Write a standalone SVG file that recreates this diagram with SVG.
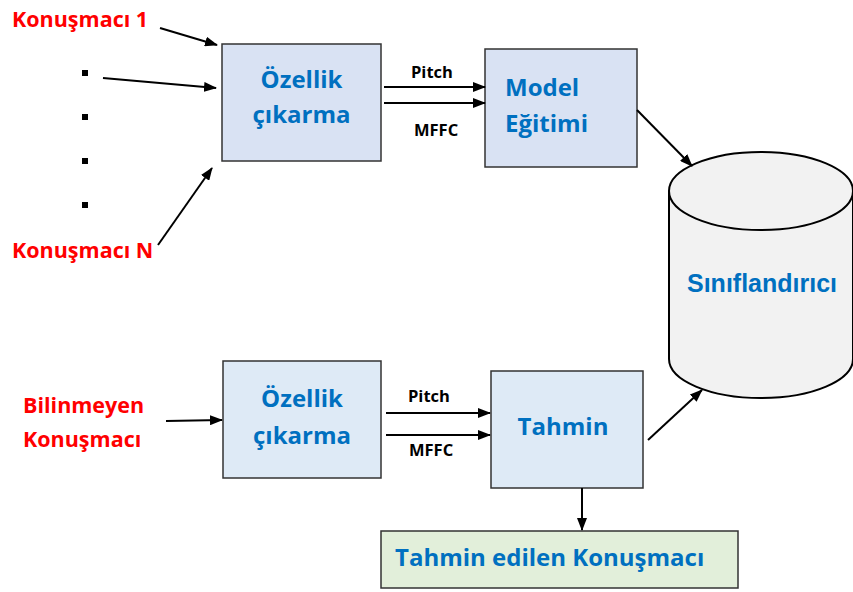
<svg xmlns="http://www.w3.org/2000/svg" width="853" height="592" viewBox="0 0 853 592">
<defs>
<marker id="ah" markerWidth="13" markerHeight="10" refX="12" refY="5" orient="auto" markerUnits="userSpaceOnUse">
<path d="M0,0 L13,5 L0,10 Z" fill="#000"/>
</marker>
<style>
.red{font-family:"Open Sans","Liberation Sans",sans-serif;font-weight:bold;fill:#FF0000;font-size:21.5px}
.blue{font-family:"Open Sans","Liberation Sans",sans-serif;font-weight:bold;fill:#0070C0;font-size:24px}
.arial{font-family:"Liberation Sans",Arial,sans-serif;font-weight:bold;fill:#0070C0;font-size:25px}
.lbl{font-family:"Open Sans","Liberation Sans",sans-serif;font-weight:bold;fill:#000;font-size:16.5px}
.box{stroke:#333;stroke-width:1.5}
.c{fill:none;stroke:#000;stroke-width:2;marker-end:url(#ah)}
</style>
</defs>
<rect width="853" height="592" fill="#fff"/>
<g id="inputs">
<text class="red" x="12" y="27">Konuşmacı 1</text>
<rect x="82" y="70" width="6" height="6" fill="#000"/>
<rect x="82" y="114" width="6" height="6" fill="#000"/>
<rect x="82" y="158" width="6" height="6" fill="#000"/>
<rect x="82" y="202" width="6" height="6" fill="#000"/>
<text class="red" x="12" y="258">Konuşmacı N</text>
</g>
<g id="unknown">
<text class="red" x="23" y="413">Bilinmeyen</text>
<text class="red" x="23" y="447">Konuşmacı</text>
</g>
<g id="ozellik1">
<rect class="box" x="222" y="44" width="159" height="117" fill="#D9E2F3"/>
<text class="blue" x="301.5" y="88" text-anchor="middle">Özellik</text>
<text class="blue" x="301.5" y="123" text-anchor="middle">çıkarma</text>
</g>
<g id="model">
<rect class="box" x="485" y="49" width="152" height="118" fill="#D9E2F3"/>
<text class="blue" x="505" y="96">Model</text>
<text class="blue" x="505" y="132">Eğitimi</text>
</g>
<g id="siniflandirici">
<path d="M669,191 L669,359 A92,39 0 0 0 853,359 L853,191 A92,39 0 0 0 669,191 Z" fill="#F2F2F2" stroke="#000" stroke-width="2"/>
<path d="M669,191 A92,39 0 0 0 853,191" fill="none" stroke="#000" stroke-width="2"/>
<text class="arial" x="762" y="292" text-anchor="middle">Sınıflandırıcı</text>
</g>
<g id="ozellik2">
<rect class="box" x="223" y="361" width="158" height="117" fill="#DEEAF6"/>
<text class="blue" x="302" y="407" text-anchor="middle">Özellik</text>
<text class="blue" x="302" y="444" text-anchor="middle">çıkarma</text>
</g>
<g id="tahmin">
<rect class="box" x="491" y="371" width="152" height="117" fill="#DEEAF6"/>
<text class="blue" x="563" y="435" text-anchor="middle">Tahmin</text>
</g>
<g id="sonuc">
<rect class="box" x="381" y="531" width="357" height="57" fill="#E2EFDA"/>
<text class="blue" x="395" y="566">Tahmin edilen Konuşmacı</text>
</g>
<g id="connectors">
<line class="c" x1="160" y1="28" x2="217" y2="45"/>
<line class="c" x1="103" y1="78" x2="216" y2="88"/>
<line class="c" x1="158" y1="245" x2="212" y2="168"/>
<line class="c" x1="384" y1="87" x2="485" y2="87"/>
<line class="c" x1="384" y1="103" x2="485" y2="103"/>
<text class="lbl" x="411" y="78">Pitch</text>
<text class="lbl" x="414" y="136">MFFC</text>
<line class="c" x1="637" y1="110" x2="692" y2="166"/>
<line class="c" x1="166" y1="421" x2="222" y2="420"/>
<line class="c" x1="386" y1="413" x2="490" y2="413"/>
<line class="c" x1="386" y1="435" x2="490" y2="435"/>
<text class="lbl" x="408" y="402">Pitch</text>
<text class="lbl" x="409" y="456">MFFC</text>
<line class="c" x1="648" y1="440" x2="702" y2="390"/>
<line class="c" x1="582" y1="488" x2="582" y2="530"/>
</g>
</svg>
